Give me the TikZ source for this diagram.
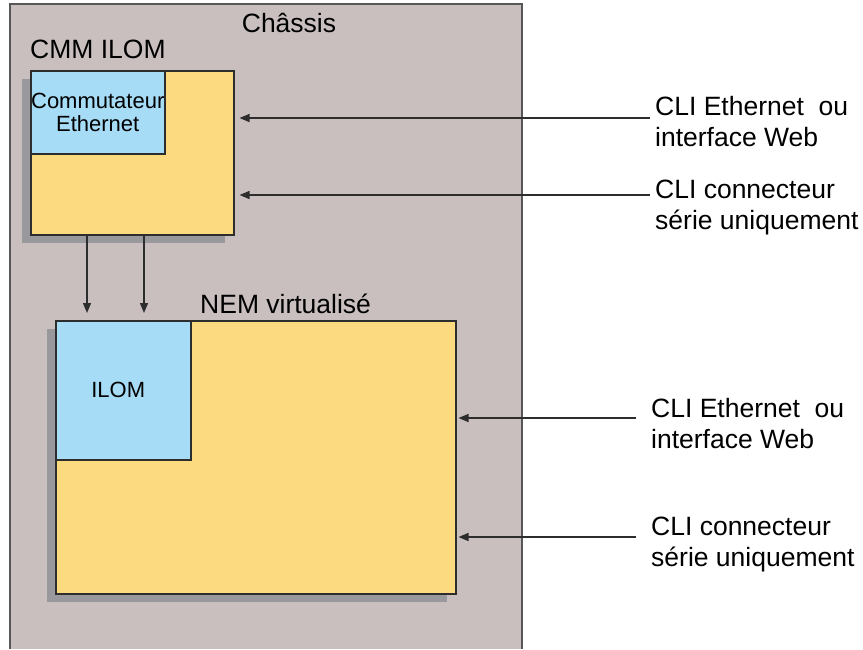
\documentclass[tikz,border=0pt]{standalone}
\usepackage{fontspec}
\setmainfont{Liberation Sans}
\usepackage{xcolor}
\usetikzlibrary{arrows.meta, positioning, shadows}
\definecolor{chassisgray}{RGB}{201,191,191}
\definecolor{boxyellow}{RGB}{251,218,128}
\definecolor{boxblue}{RGB}{166,220,246}
\definecolor{shadowgray}{RGB}{153,152,157}
\definecolor{linegray}{RGB}{45,45,45}

\begin{document}
\begin{tikzpicture}[x=1pt, y=-1pt,
    box/.style={draw=linegray, line width=1.5pt, inner sep=0pt, anchor=north west},
    boxshadow/.style={general shadow={fill=shadowgray, shadow xshift=-8.5pt, shadow yshift=-8.5pt}},
    title/.style={font=\fontsize{26.5}{31}\selectfont, inner sep=0pt},
    inner/.style={font=\fontsize{22}{26}\selectfont, align=center},
    arr/.style={-{Triangle[length=10pt, width=8pt]}, line width=1.4pt, draw=linegray}]
    \useasboundingbox (0,0) rectangle (863,649);

    % Châssis
    \fill[chassisgray] (10,4) rectangle (522,649);
    \draw[linegray!80, line width=1.3pt] (10,649) |- (522,4) -- (522,649);
    \node[title, anchor=base] (chassis) at (289,32) {Châssis};

    % CMM ILOM
    \node[title, anchor=base west] (cmmlbl) at (30,58) {CMM ILOM};
    \node[box, boxshadow, fill=boxyellow, minimum width=203, minimum height=164] (cmm) at (30,70) {};
    \node[box, fill=boxblue, minimum width=134, minimum height=83, inner] (switch) at (30,70) {Commutateur\\[-3pt]Ethernet};

    % NEM virtualisé
    \node[title, anchor=base west] (nemlbl) at (200,313) {NEM virtualisé};
    \node[box, boxshadow, fill=boxyellow, minimum width=400, minimum height=273] (nem) at (55,320) {};
    \node[box, fill=boxblue, minimum width=135, minimum height=139] (ilom) at (55,320) {};
    \node[inner] (ilomlbl) at ([xshift=-5pt]ilom.center) {ILOM};

    % liaisons CMM -> NEM
    \draw[arr, shorten >=7pt] ([xshift=57pt]cmm.south west) -- ([xshift=57pt]cmm.south west |- nem.north);
    \draw[arr, shorten >=7pt] ([xshift=114pt]cmm.south west) -- ([xshift=114pt]cmm.south west |- nem.north);

    % accès externes
    \node[title, anchor=north west, align=left] (ethA) at (655,96.5) {CLI Ethernet\ \ ou\\interface Web};
    \node[title, anchor=north west, align=left] (serA) at (655,179.5) {CLI connecteur\\série uniquement};
    \node[title, anchor=north west, align=left] (ethB) at (651,398.5) {CLI Ethernet\ \ ou\\interface Web};
    \node[title, anchor=north west, align=left] (serB) at (651,516.5) {CLI connecteur\\série uniquement};

    \coordinate (inA) at (650,118);
    \coordinate (inB) at (650,195);
    \coordinate (inC) at (636,418);
    \coordinate (inD) at (636,537);
    \draw[arr, shorten >=5pt] (inA) -- (inA -| cmm.east);
    \draw[arr, shorten >=5pt] (inB) -- (inB -| cmm.east);
    \draw[arr, shorten >=2pt] (inC) -- (inC -| nem.east);
    \draw[arr, shorten >=2pt] (inD) -- (inD -| nem.east);
\end{tikzpicture}
\end{document}
